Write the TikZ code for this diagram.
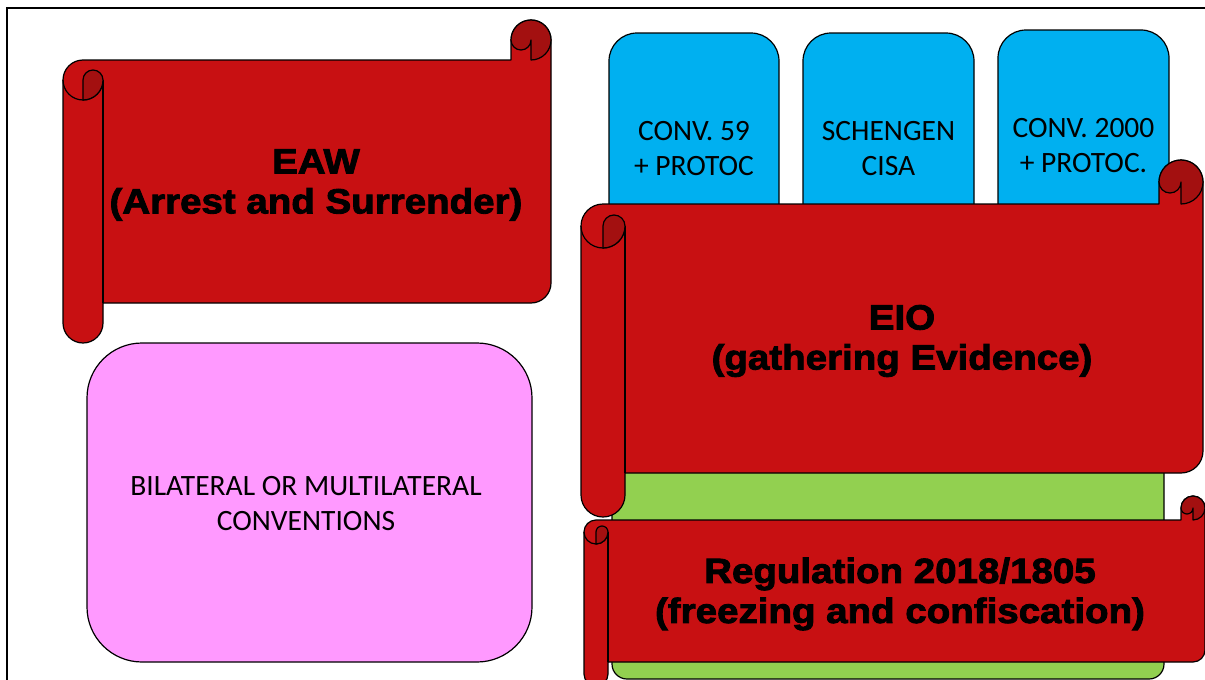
\documentclass[tikz,border=0pt]{standalone}
\usepackage{fontspec}
\setmainfont{Carlito}
\newfontfamily\scrollfont[FakeStretch=1.1,FakeBold=2.5]{Liberation Sans}
\definecolor{scrollred}{RGB}{200,16,18}
\definecolor{scrolldark}{RGB}{163,16,16}
\definecolor{boxblue}{RGB}{0,176,240}
\definecolor{boxgreen}{RGB}{146,208,80}
\definecolor{boxpink}{RGB}{255,153,255}
\tikzset{
  outl/.style={draw=black, line width=1.2pt, line join=round},
  bluebox/.style={outl, fill=boxblue, rounded corners=28pt},
  greenbox/.style={outl, fill=boxgreen, rounded corners=15pt},
  pinkbox/.style={outl, fill=boxpink, rounded corners=55pt},
  scrollbody/.style={outl, fill=scrollred},
  scrollcurl/.style={outl, fill=scrolldark},
  scrollline/.style={outl},
  boxtext/.style={font=\fontsize{29.5}{35}\selectfont, align=center, inner sep=0pt},
  scrolltext/.style={font=\scrollfont\bfseries\fontsize{35}{40}\selectfont, align=center, inner sep=0pt},
  frameline/.style={draw=black, line width=2pt},
}
% horizontal scroll: left, top, right, bottom, roll size (y grows downward)
\newcommand{\hscroll}[5]{%
  \pgfmathsetmacro\scrL{#1}\pgfmathsetmacro\scrT{#2}%
  \pgfmathsetmacro\scrR{#3}\pgfmathsetmacro\scrB{#4}%
  \pgfmathsetmacro\scrA{#5}\pgfmathsetmacro\scrH{#5/2}\pgfmathsetmacro\scrQ{#5/4}%
  \path[scrollbody] ({\scrL},{\scrT+1.5*\scrA}) arc[start angle=180,end angle=270,radius=\scrH]
    -- ({\scrR-\scrA},{\scrT+\scrA}) -- ({\scrR-\scrA},{\scrT+\scrH})
    arc[start angle=180,end angle=360,radius=\scrH]
    -- ({\scrR},{\scrB-\scrA-\scrH}) arc[start angle=0,end angle=90,radius=\scrH]
    -- ({\scrL+\scrA},{\scrB-\scrA}) -- ({\scrL+\scrA},{\scrB-\scrH})
    arc[start angle=0,end angle=180,radius=\scrH] -- cycle;
  \path[scrollline] ({\scrL+\scrA},{\scrT+1.5*\scrA}) -- ({\scrL+\scrA},{\scrB-\scrA});
  \path[scrollline] ({\scrL},{\scrT+1.5*\scrA}) arc[start angle=180,end angle=0,radius=\scrH];
  \path[scrollcurl] ({\scrL+\scrH},{\scrT+1.5*\scrA}) arc[start angle=180,end angle=360,radius=\scrQ]
    arc[start angle=0,end angle=90,radius=\scrH] -- cycle;
  \path[scrollcurl] ({\scrR-\scrA},{\scrT+\scrH}) arc[start angle=180,end angle=360,radius=\scrH]
    arc[start angle=0,end angle=90,radius=\scrH] -- ({\scrR-\scrH},{\scrT+\scrH})
    arc[start angle=0,end angle=180,radius=\scrQ] -- cycle;
}
\begin{document}
\begin{tikzpicture}[x=1pt,y=-1pt]
\useasboundingbox (0,0) rectangle (1205,680);
% blue boxes
\path[bluebox] (609,33) rectangle (779,280);
\path[bluebox] (803,33) rectangle (974,280);
\path[bluebox] (998,30) rectangle (1169,280);
\node[boxtext] (conv59) at (694,149) {CONV. 59\\+ PROTOC};
\node[boxtext] (schengen) at (888.5,149) {SCHENGEN\\CISA};
\node[boxtext] (conv2000) at (1083.5,146) {CONV. 2000\\+ PROTOC.};
% green box
\path[greenbox] (612,380) rectangle (1164,679);
% pink box
\path[pinkbox] (87,343) rectangle (532,662);
\node[boxtext] (bilateral) at (306,504) {BILATERAL OR MULTILATERAL\\CONVENTIONS};
% scrolls
\hscroll{63}{20}{551}{343}{40}
\node[scrolltext] (eaw) at (316,185) {EAW\\(Arrest and Surrender)};
\hscroll{581}{160}{1203}{517}{44}
\node[scrolltext] (eio) at (902,341) {EIO\\(gathering Evidence)};
\hscroll{584}{496}{1205}{686}{24}
\node[scrolltext] (reg) at (900,594) {Regulation 2018/1805\\(freezing and confiscation)};
% frame
\draw[frameline] (7,681) -- (7,8) -- (1206,8);
\end{tikzpicture}
\end{document}
